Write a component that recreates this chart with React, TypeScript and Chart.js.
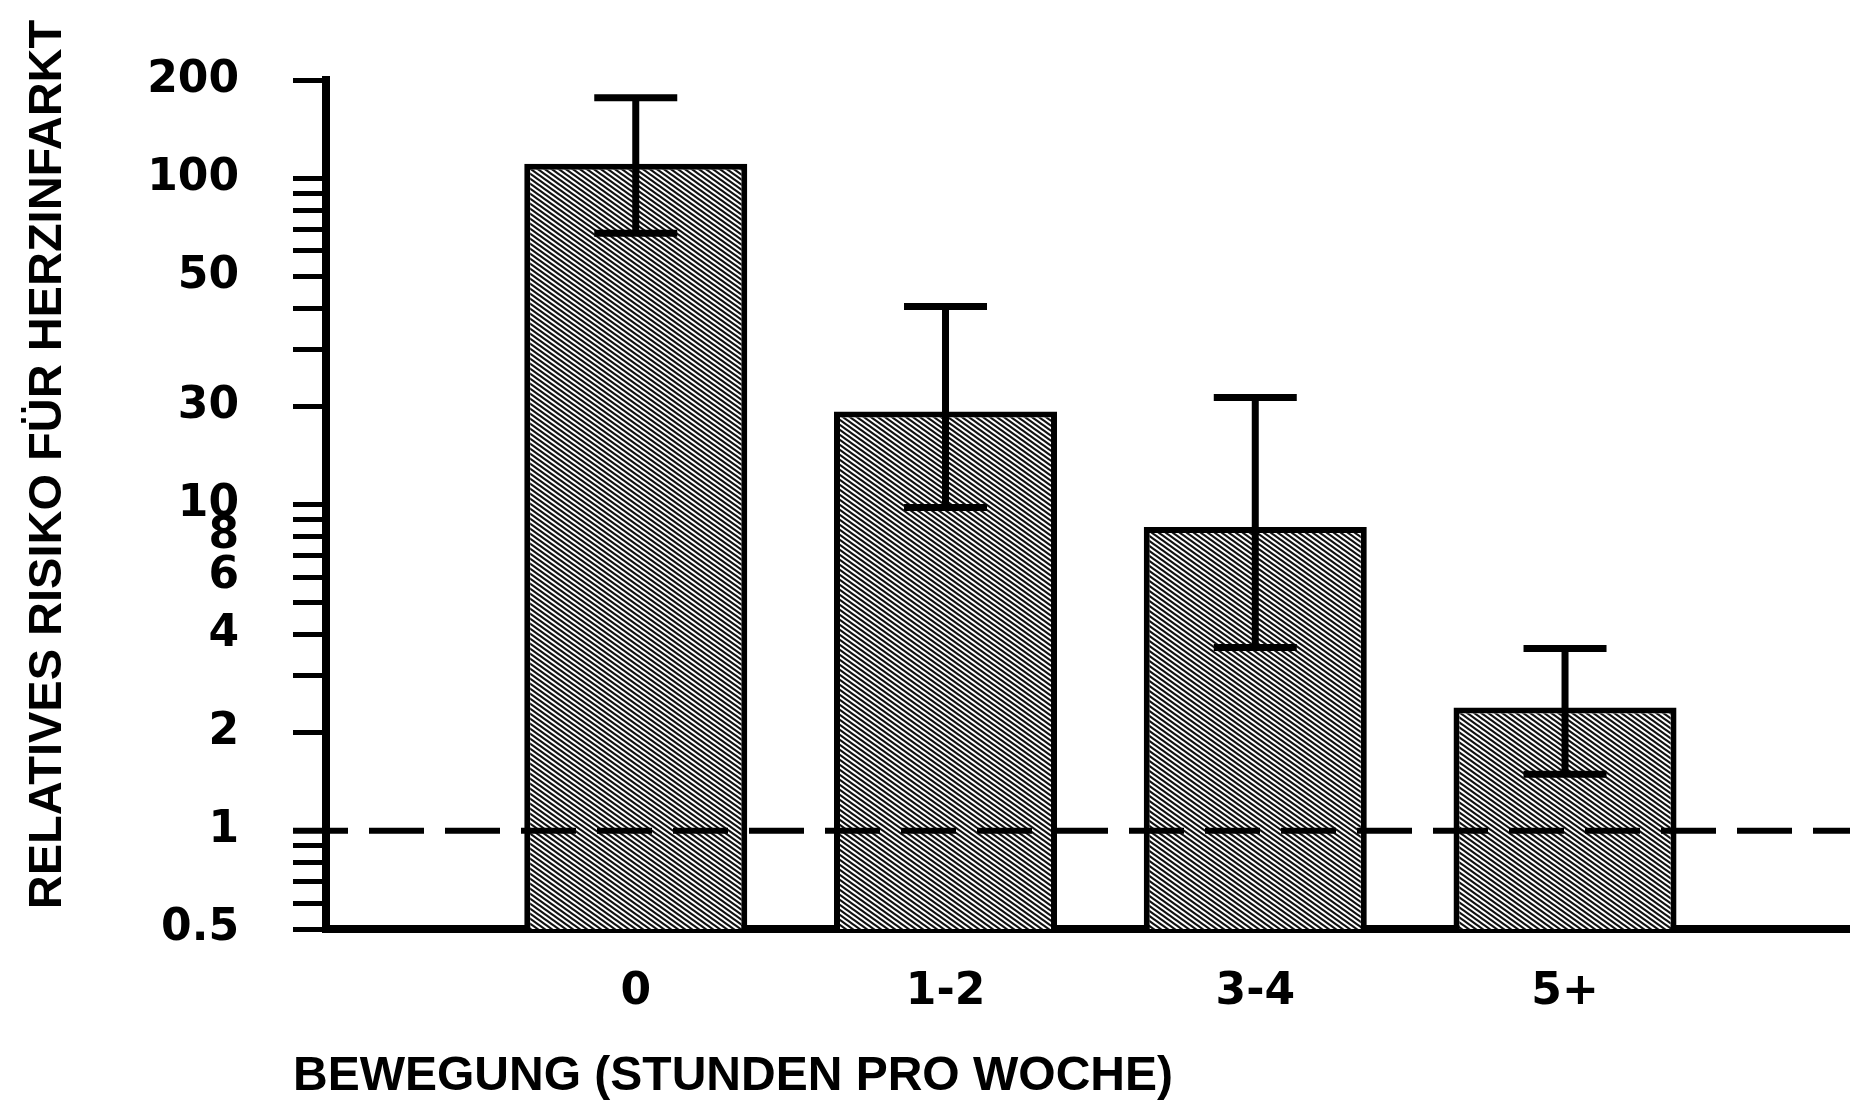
import React, { useEffect, useRef } from 'react';
import { Chart, registerables } from 'chart.js';

Chart.register(...registerables);

// ---- data ----
const categories = ['0', '1-2', '3-4', '5+'];
const categoryPositions = [1, 2, 3, 4];
const relativeRisk = [111, 19.3, 8.55, 2.39];
const ciUpper = [177, 40.5, 21.3, 3.62];
const ciLower = [68, 9.8, 3.65, 1.49];
const yMajorTicks = [200, 100, 50, 20, 10, 8, 6, 4, 2, 1, 0.5];
const yMajorLabels = ['200', '100', '50', '30', '10', '8', '6', '4', '2', '1', '0.5'];
const yMinorTicks = [90, 80, 70, 60, 40, 30, 9, 7, 5, 3, 0.9, 0.8, 0.7, 0.6];
const referenceValue = 1;
const yTitle = 'RELATIVES RISIKO FÜR HERZINFARKT';
const xTitle = 'BEWEGUNG (STUNDEN PRO WOCHE)';

const Y_TICK_LEN = 33;

function makeHatch(): CanvasPattern | string {
  const c = document.createElement('canvas');
  const w = 7;
  const h = 5;
  c.width = w;
  c.height = h;
  const g = c.getContext('2d');
  if (!g) return '#888';
  g.fillStyle = '#ffffff';
  g.fillRect(0, 0, w, h);
  g.strokeStyle = '#111111';
  g.lineWidth = 2.2;
  g.beginPath();
  for (const off of [-h, 0, h]) {
    g.moveTo(-1, off - h / w);
    g.lineTo(w + 1, off + h + h / w);
  }
  g.stroke();
  return g.createPattern(c, 'repeat') || '#888';
}

const overlayPlugin = {
  id: 'overlay',
  afterDatasetsDraw(chart: any) {
    const ctx: CanvasRenderingContext2D = chart.ctx;
    const ys = chart.scales.y;
    const area = chart.chartArea;
    // reference dashed line
    const yRef = ys.getPixelForValue(referenceValue);
    ctx.save();
    ctx.strokeStyle = '#000';
    ctx.lineWidth = 6;
    ctx.setLineDash([55, 21]);
    ctx.beginPath();
    ctx.moveTo(ys.right - Y_TICK_LEN, yRef);
    ctx.lineTo(area.right, yRef);
    ctx.stroke();
    ctx.restore();
    // error bars
    const meta = chart.getDatasetMeta(0);
    meta.data.forEach((bar: any, i: number) => {
      const x = bar.x;
      const yh = ys.getPixelForValue(ciUpper[i]);
      const yl = ys.getPixelForValue(ciLower[i]);
      const cap = 41.5;
      ctx.save();
      ctx.strokeStyle = '#000';
      ctx.lineWidth = 7;
      ctx.lineCap = 'butt';
      ctx.beginPath();
      ctx.moveTo(x, yh - 3.5);
      ctx.lineTo(x, yl + 3.5);
      ctx.moveTo(x - cap, yh);
      ctx.lineTo(x + cap, yh);
      ctx.moveTo(x - cap, yl);
      ctx.lineTo(x + cap, yl);
      ctx.stroke();
      ctx.restore();
    });
  },
  afterDraw(chart: any) {
    const ctx: CanvasRenderingContext2D = chart.ctx;
    ctx.save();
    ctx.fillStyle = '#000';
    ctx.font = 'bold 48px "Liberation Sans", Arial, sans-serif';
    ctx.textBaseline = 'alphabetic';
    ctx.textAlign = 'left';
    ctx.fillText(xTitle, 293, 1090);
    ctx.font = 'bold 47px "Liberation Sans", Arial, sans-serif';
    ctx.translate(61, 464.5);
    ctx.rotate(-Math.PI / 2);
    ctx.textAlign = 'center';
    ctx.fillText(yTitle, 0, 0);
    ctx.restore();
  },
};

export default function App() {
  const ref = useRef<HTMLCanvasElement>(null);
  useEffect(() => {
    document.body.style.margin = '0';
    const canvas = ref.current;
    if (!canvas) return;
    const hatch = makeHatch();
    const labelFor = (v: number) => {
      const i = yMajorTicks.indexOf(v);
      return i >= 0 ? yMajorLabels[i] : '';
    };
    const chart = new Chart(canvas, {
      type: 'bar',
      data: {
        datasets: [
          {
            data: categoryPositions.map((x, i) => ({ x, y: relativeRisk[i] })),
            backgroundColor: hatch as any,
            borderColor: '#000',
            borderWidth: 6,
            borderSkipped: 'start',
            barPercentage: 0.72,
            categoryPercentage: 1,
          },
        ],
      },
      options: {
        responsive: false,
        maintainAspectRatio: false,
        devicePixelRatio: 1,
        animation: false,
        events: [],
        layout: { padding: { top: 79, left: 0, right: 0, bottom: 0 } },
        plugins: {
          legend: { display: false },
          tooltip: { enabled: false },
          title: { display: false },
        },
        scales: {
          x: {
            type: 'linear',
            min: 0,
            max: 4.92,
            offset: false,
            z: 1,
            afterBuildTicks: (s: any) => {
              s.ticks = categoryPositions.map((v) => ({ value: v }));
            },
            afterFit: (s: any) => {
              s.height = 172;
            },
            grid: { display: false, drawTicks: false, offset: false },
            border: { display: true, color: '#000', width: 8 },
            ticks: {
              autoSkip: false,
              maxRotation: 0,
              padding: 37,
              color: '#000',
              font: { family: '"DejaVu Sans", sans-serif', weight: 'bold', size: 44 },
              callback: (v: any) => {
                const i = categoryPositions.indexOf(Number(v));
                return i >= 0 ? categories[i] : '';
              },
            },
          },
          y: {
            type: 'logarithmic',
            min: 0.5,
            max: 200,
            z: 1,
            afterBuildTicks: (s: any) => {
              s.ticks = [...yMajorTicks, ...yMinorTicks]
                .sort((a, b) => a - b)
                .map((v) => ({ value: v }));
            },
            afterFit: (s: any) => {
              s.width = 326;
            },
            grid: {
              display: true,
              drawOnChartArea: false,
              drawTicks: true,
              tickLength: Y_TICK_LEN,
              color: '#000',
              lineWidth: 5,
            },
            border: { display: true, color: '#000', width: 8 },
            ticks: {
              autoSkip: false,
              padding: 54,
              color: '#000',
              font: { family: '"DejaVu Sans", sans-serif', weight: 'bold', size: 44 },
              callback: (v: any) => labelFor(Number(v)),
            },
          },
        },
      },
      plugins: [overlayPlugin],
    } as any);
    return () => chart.destroy();
  }, []);
  return (
    <div style={{ width: 1850, height: 1101, overflow: 'hidden', background: '#fff' }}>
      <canvas ref={ref} width={1850} height={1101} style={{ display: 'block' }} />
    </div>
  );
}
